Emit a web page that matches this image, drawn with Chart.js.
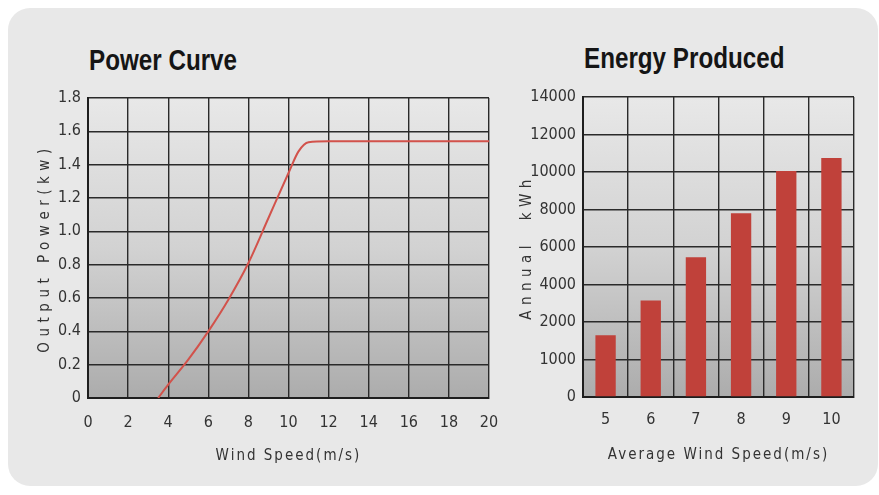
<!DOCTYPE html>
<html>
<head>
<meta charset="utf-8">
<script src="https://cdn.jsdelivr.net/npm/chart.js@4.4.1/dist/chart.umd.min.js"></script>
<style>
  body { margin: 0; background: #fff; }
  .panel { position: absolute; left: 8px; top: 8px; width: 870px; height: 478px; background: #e8e8e8; border-radius: 22px; }
  .title { position: absolute; font-family: 'Liberation Sans', Arial, sans-serif; font-weight: bold; font-size: 29px; color: #151515; line-height: 1; white-space: nowrap; transform: scaleX(0.835); transform-origin: left top; }
  canvas { position: absolute; top: 0; }
</style>
</head>
<body>
<div class="panel"></div>
<div class="title" style="left:89px; top:46px;">Power Curve</div>
<div class="title" style="left:584px; top:44px;">Energy Produced</div>
<canvas id="power" style="left:0;" width="500" height="495"></canvas>
<canvas id="energy" style="left:500px;" width="379" height="495"></canvas>
<script>
// power curve
const windSpeeds = [3.5, 4, 5, 6, 7, 8, 9, 10, 10.5, 11, 12, 14, 16, 18, 20];
const outputPower = [0, 0.08, 0.23, 0.4, 0.59, 0.81, 1.08, 1.35, 1.48, 1.535, 1.54, 1.54, 1.54, 1.54, 1.54];

// energy produced
const avgWindSpeeds = ['5', '6', '7', '8', '9', '10'];
const annualKwh = [1650, 3150, 5450, 7800, 10050, 10750];
// the energy axis has uneven steps, evenly spaced on the page
const energyTicks = [0, 1000, 2000, 4000, 6000, 8000, 10000, 12000, 14000];

const narrow = "'Liberation Sans Narrow', 'DejaVu Sans Condensed', sans-serif";
const tickColor = '#333';
const gridColor = '#2a2a2a';

// kWh -> position on the evenly spaced tick axis
const toTickPos = (v) => {
  for (let i = 1; i < energyTicks.length; i++) {
    if (v <= energyTicks[i]) {
      const lo = energyTicks[i - 1];
      return i - 1 + (v - lo) / (energyTicks[i] - lo);
    }
  }
  return energyTicks.length - 1;
};

const plotBackground = {
  id: 'plotBackground',
  beforeDraw(chart) {
    const { ctx, chartArea: a } = chart;
    const g = ctx.createLinearGradient(0, a.top, 0, a.bottom);
    g.addColorStop(0, '#e8e8e8');
    g.addColorStop(0.5, '#d2d2d2');
    g.addColorStop(1, '#acacac');
    ctx.save();
    ctx.fillStyle = g;
    ctx.fillRect(a.left, a.top, a.right - a.left, a.bottom - a.top);
    ctx.restore();
  },
};

// axis titles are letter spaced in the original
const spacedTitles = (spacing) => ({
  id: 'spacedTitles',
  beforeDraw(chart) {
    Object.keys(spacing).forEach((id) => {
      const scale = chart.scales[id];
      if (!scale || scale._spaced) return;
      const orig = scale.drawTitle;
      scale.drawTitle = function () {
        const { ctx } = this;
        const prev = ctx.letterSpacing;
        ctx.letterSpacing = spacing[id];
        orig.call(this);
        ctx.letterSpacing = prev;
      };
      scale._spaced = true;
    });
  },
});

const gridOpts = { color: gridColor, lineWidth: 1.4, drawTicks: false };
const borderOpts = { display: true, color: '#1e1e1e', width: 2 };

// eslint-disable-next-line no-new, no-undef
new Chart(document.getElementById('power'), {
  type: 'line',
  data: {
    datasets: [{
      data: windSpeeds.map((x, i) => ({ x, y: outputPower[i] })),
      borderColor: '#d2524b',
      borderWidth: 2,
      pointRadius: 0,
      cubicInterpolationMode: 'monotone',
      fill: false,
    }],
  },
  options: {
    responsive: false,
    animation: false,
    layout: { padding: { top: 98, left: 30, right: 11, bottom: 27 } },
    plugins: { legend: { display: false }, tooltip: { enabled: false } },
    scales: {
      x: {
        type: 'linear',
        min: 0,
        max: 20,
        grid: gridOpts,
        border: borderOpts,
        afterFit: (s) => { s.height = 70; s.paddingRight = 0; s.paddingLeft = 0; },
        ticks: { stepSize: 2, padding: 15, color: tickColor, font: { family: narrow, size: 16 }, maxRotation: 0 },
        title: { display: true, text: 'Wind Speed(m/s)', color: '#333', font: { family: narrow, size: 15 }, padding: { top: 0, bottom: 3 } },
      },
      y: {
        min: 0,
        max: 1.8,
        grid: gridOpts,
        border: borderOpts,
        afterFit: (s) => { s.width = 58; },
        ticks: {
          stepSize: 0.2,
          padding: 7,
          color: tickColor,
          font: { family: narrow, size: 16 },
          callback: (v) => (v === 0 ? '0' : v.toFixed(1)),
        },
        title: { display: true, text: 'Output Power(kw)', color: '#333', font: { family: narrow, size: 15 }, padding: { top: 6, bottom: 0 } },
      },
    },
  },
  plugins: [plotBackground, spacedTitles({ x: '2px', y: '5.5px' })],
});

// eslint-disable-next-line no-new, no-undef
new Chart(document.getElementById('energy'), {
  type: 'bar',
  data: {
    labels: avgWindSpeeds,
    datasets: [{
      data: annualKwh.map(toTickPos),
      backgroundColor: '#c0413a',
      categoryPercentage: 0.9,
      barPercentage: 0.5,
    }],
  },
  options: {
    responsive: false,
    animation: false,
    layout: { padding: { top: 97, left: 15, right: 25, bottom: 28 } },
    plugins: { legend: { display: false }, tooltip: { enabled: false } },
    scales: {
      x: {
        grid: { ...gridOpts, offset: true },
        border: borderOpts,
        afterFit: (s) => { s.height = 70; },
        ticks: { padding: 13, color: tickColor, font: { family: narrow, size: 16 } },
        title: { display: true, text: 'Average Wind Speed(m/s)', color: '#333', font: { family: narrow, size: 15 }, padding: { top: 0, bottom: 3 } },
      },
      y: {
        min: 0,
        max: energyTicks.length - 1,
        grid: gridOpts,
        border: borderOpts,
        afterFit: (s) => { s.width = 68; },
        ticks: {
          stepSize: 1,
          padding: 7,
          color: tickColor,
          font: { family: narrow, size: 16 },
          callback: (v) => String(energyTicks[v]),
        },
        title: { display: true, text: 'Annual  kWh', color: '#333', font: { family: narrow, size: 15 }, padding: { top: 3, bottom: 0 } },
      },
    },
  },
  plugins: [plotBackground, spacedTitles({ x: '2px', y: '5.5px' })],
});
</script>
</body>
</html>
